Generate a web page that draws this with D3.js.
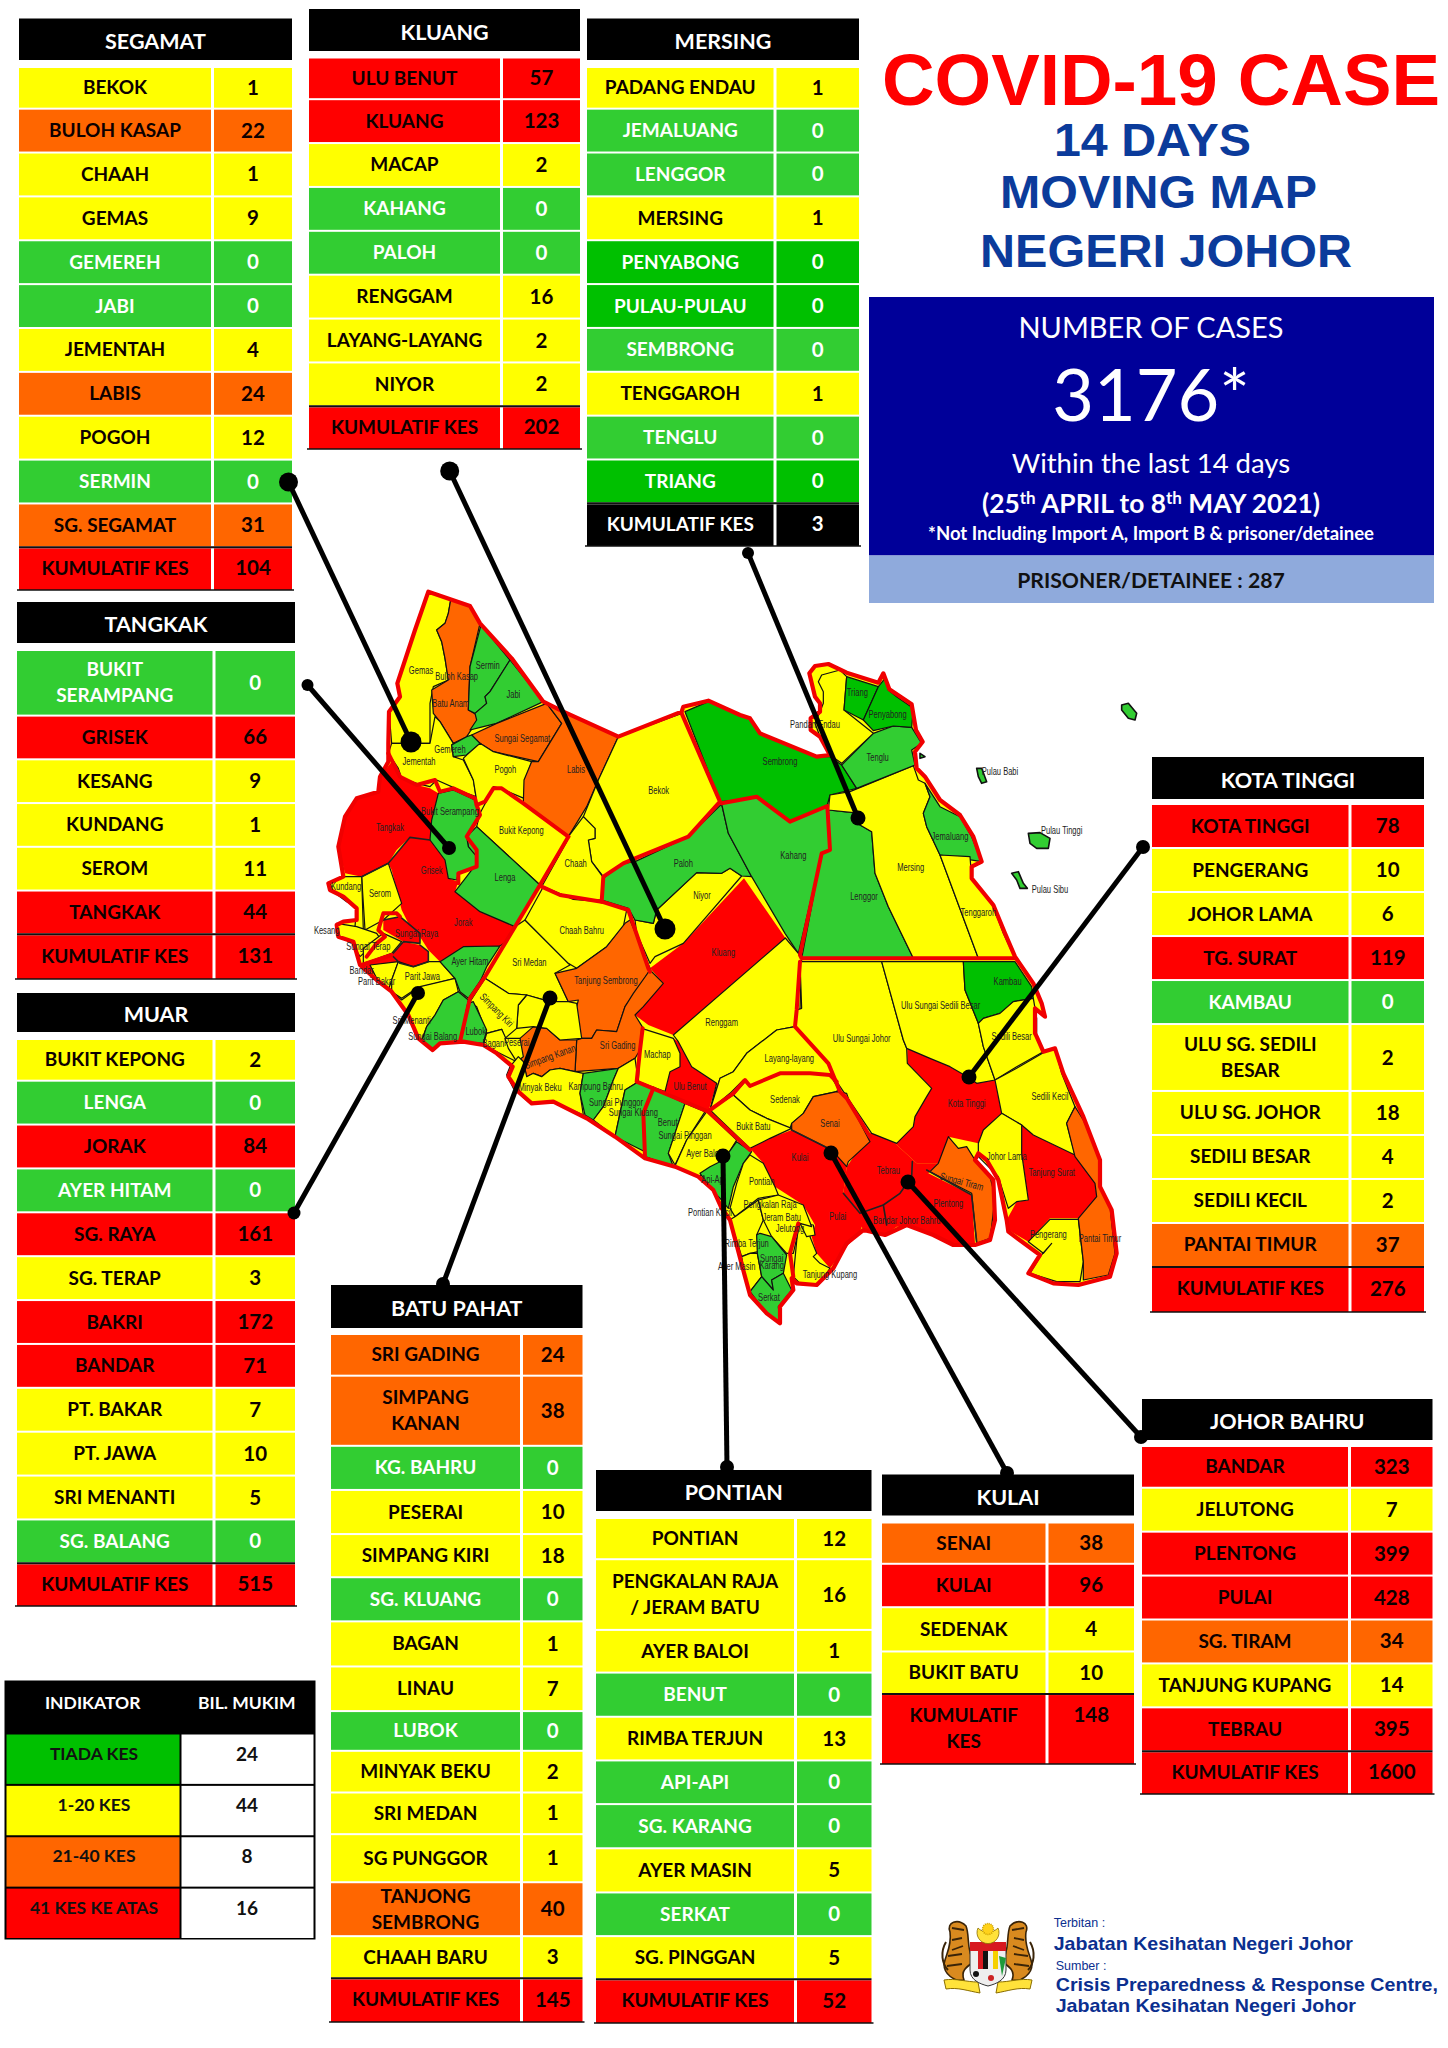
<!DOCTYPE html>
<html>
<head>
	<meta charset="utf-8">
	<title>COVID-19 Case Johor</title>
	<script src="https://cdn.jsdelivr.net/npm/d3@7"></script>
	<style>
	html, body { margin: 0; padding: 0; background: #fff; }
	svg { display: block; }
	text { font-family: Lato, "Open Sans", sans-serif; }
	</style>
</head>
<body>
	<script type="text/javascript">

		// Kes mengikut mukim ('|' = baris baru)
		let segamatMukim = ['BEKOK', 'BULOH KASAP', 'CHAAH', 'GEMAS', 'GEMEREH', 'JABI', 'JEMENTAH', 'LABIS', 'POGOH', 'SERMIN', 'SG. SEGAMAT'];
		let segamatCases = [1, 22, 1, 9, 0, 0, 4, 24, 12, 0, 31];
		let kluangMukim = ['ULU BENUT', 'KLUANG', 'MACAP', 'KAHANG', 'PALOH', 'RENGGAM', 'LAYANG-LAYANG', 'NIYOR'];
		let kluangCases = [57, 123, 2, 0, 0, 16, 2, 2];
		let mersingMukim = ['PADANG ENDAU', 'JEMALUANG', 'LENGGOR', 'MERSING', 'PENYABONG', 'PULAU-PULAU', 'SEMBRONG', 'TENGGAROH', 'TENGLU', 'TRIANG'];
		let mersingCases = [1, 0, 0, 1, 0, 0, 0, 1, 0, 0];
		let tangkakMukim = ['BUKIT|SERAMPANG', 'GRISEK', 'KESANG', 'KUNDANG', 'SEROM', 'TANGKAK'];
		let tangkakCases = [0, 66, 9, 1, 11, 44];
		let muarMukim = ['BUKIT KEPONG', 'LENGA', 'JORAK', 'AYER HITAM', 'SG. RAYA', 'SG. TERAP', 'BAKRI', 'BANDAR', 'PT. BAKAR', 'PT. JAWA', 'SRI MENANTI', 'SG. BALANG'];
		let muarCases = [2, 0, 84, 0, 161, 3, 172, 71, 7, 10, 5, 0];
		let batuPahatMukim = ['SRI GADING', 'SIMPANG|KANAN', 'KG. BAHRU', 'PESERAI', 'SIMPANG KIRI', 'SG. KLUANG', 'BAGAN', 'LINAU', 'LUBOK', 'MINYAK BEKU', 'SRI MEDAN', 'SG PUNGGOR', 'TANJONG|SEMBRONG', 'CHAAH BARU'];
		let batuPahatCases = [24, 38, 0, 10, 18, 0, 1, 7, 0, 2, 1, 1, 40, 3];
		let pontianMukim = ['PONTIAN', 'PENGKALAN RAJA|/ JERAM BATU', 'AYER BALOI', 'BENUT', 'RIMBA TERJUN', 'API-API', 'SG. KARANG', 'AYER MASIN', 'SERKAT', 'SG. PINGGAN'];
		let pontianCases = [12, 16, 1, 0, 13, 0, 0, 5, 0, 5];
		let kulaiMukim = ['SENAI', 'KULAI', 'SEDENAK', 'BUKIT BATU'];
		let kulaiCases = [38, 96, 4, 10];
		let johorBahruMukim = ['BANDAR', 'JELUTONG', 'PLENTONG', 'PULAI', 'SG. TIRAM', 'TANJUNG KUPANG', 'TEBRAU'];
		let johorBahruCases = [323, 7, 399, 428, 34, 14, 395];
		let kotaTinggiMukim = ['KOTA TINGGI', 'PENGERANG', 'JOHOR LAMA', 'TG. SURAT', 'KAMBAU', 'ULU SG. SEDILI|BESAR', 'ULU  SG. JOHOR', 'SEDILI BESAR', 'SEDILI KECIL', 'PANTAI TIMUR'];
		let kotaTinggiCases = [78, 10, 6, 119, 0, 2, 18, 4, 2, 37];

		let totalCases = [104, 202, 3, 131, 515, 145, 52, 148, 1600, 276];
		let totalLabel = 'KUMULATIF KES';

		let legendLabels = ['TIADA KES', '1-20 KES', '21-40 KES', '41 KES KE ATAS'];
		let legendMukim = [24, 44, 8, 16];

		// warna
		let caseColor = d3.scaleThreshold().domain([1, 21, 41]).range(['#32cd32', '#ffff00', '#ff6600', '#ff0000']);
		let legendColors = ['#00c000', '#ffff00', '#ff6600', '#ff0000'];
		let darkGreenRows = ['PENYABONG', 'PULAU-PULAU', 'TRIANG'];
		let darkGreenShapes = ['PENYABONG', 'TRIANG', 'SEMBRONG', 'KAMBAU'];

		let tables = [
			{ title: 'SEGAMAT', mukim: segamatMukim, cases: segamatCases, total: totalCases[0], x0: 19, x1: 292, split: 212.5, h0: 18.5, h1: 60, y0: 68, y1: 590 },
			{ title: 'KLUANG', mukim: kluangMukim, cases: kluangCases, total: totalCases[1], x0: 309, x1: 580, split: 501.5, h0: 9, h1: 51, y0: 58.5, y1: 449 },
			{ title: 'MERSING', mukim: mersingMukim, cases: mersingCases, total: totalCases[2], x0: 587, x1: 859, split: 775, h0: 18.5, h1: 60, y0: 68, y1: 546 },
			{ title: 'TANGKAK', mukim: tangkakMukim, cases: tangkakCases, total: totalCases[3], x0: 17, x1: 295, split: 214, h0: 602, h1: 643, y0: 651, y1: 979, weights: [1.5, 1, 1, 1, 1, 1, 1] },
			{ title: 'MUAR', mukim: muarMukim, cases: muarCases, total: totalCases[4], x0: 17, x1: 295, split: 214, h0: 993, h1: 1032, y0: 1040, y1: 1606 },
			{ title: 'BATU PAHAT', mukim: batuPahatMukim, cases: batuPahatCases, total: totalCases[5], x0: 331, x1: 582.5, split: 521.5, h0: 1285, h1: 1328, y0: 1335, y1: 2022, weights: [85, 143, 90, 90, 88, 90, 92, 91, 81, 85, 85, 98, 110, 86, 87] },
			{ title: 'PONTIAN', mukim: pontianMukim, cases: pontianCases, total: totalCases[6], x0: 596, x1: 871.5, split: 795.5, h0: 1470, h1: 1511, y0: 1519, y1: 2023, weights: [84, 144, 87, 90, 89, 89, 90, 90, 89, 88, 87] },
			{ title: 'KULAI', mukim: kulaiMukim, cases: kulaiCases, total: totalCases[7], x0: 882, x1: 1134, split: 1047, h0: 1474.5, h1: 1515.5, y0: 1523.5, y1: 1764, weights: [97, 102, 104, 100, 162], totalLabel: 'KUMULATIF|KES', totalTop: true },
			{ title: 'JOHOR BAHRU', mukim: johorBahruMukim, cases: johorBahruCases, total: totalCases[8], x0: 1142, x1: 1432.5, split: 1349.5, h0: 1399, h1: 1440, y0: 1447, y1: 1794 },
			{ title: 'KOTA TINGGI', mukim: kotaTinggiMukim, cases: kotaTinggiCases, total: totalCases[9], x0: 1152, x1: 1424, split: 1350, h0: 757, h1: 799, y0: 805, y1: 1312, weights: [1, 1, 1, 1, 1, 1.52, 1, 1, 1, 1, 1] }
		];

		// Sempadan mukim dikesan dari gambar; unit peta dengan bingkai a-d
		let mapFrames = { a: [0, 0], b: [0, 1140], c: [1260, 180], d: [1140, 1140] };
		let coastRing = '325,35 450,78 480,130 575,235 670,365 730,395 895,470 1085,395 1090,380 1165,362 1260,405 1290,415 1320,460 1490,530 1530,525 1500,470 1472,450 1472,415 1500,395 1500,370 1485,350 1468,280 1485,258 1525,252 1580,278 1675,308 1690,280 1708,328 1775,373 1788,450 1808,485 1785,515 1790,565 1815,590 1860,660 1920,705 1960,770 1985,845 1955,860 1955,895 2020,975 2055,1060 2085,1130 2140,1210 2165,1270 2175,1310 2145,1285 2145,1360 2150,1370 2170,1415 2205,1405 2230,1480 2290,1610 2340,1740 2340,1820 2375,1890 2390,2020 2370,2090 2275,2115 2200,2110 2125,2080 2160,2025 2065,1955 2060,1920 2035,1800 2000,1740 1975,1720 1965,1740 2020,1800 2025,1920 2010,1980 1965,1995 1900,1995 1840,1965 1760,1935 1695,1965 1630,1950 1580,1990 1540,2065 1490,2115 1430,2110 1415,2095 1420,2130 1380,2180 1380,2230 1340,2200 1290,2145 1275,2090 1230,1920 1205,1885 1180,1830 1135,1790 1065,1760 975,1735 885,1670 800,1615 700,1565 635,1570 595,1535 565,1490 578,1460 530,1420 490,1395 430,1385 360,1390 338,1410 295,1375 265,1305 215,1235 170,1200 120,1155 100,1085 55,1070 50,1035 70,1025 110,1020 110,985 70,950 30,930 25,910 70,890 55,800 75,710 110,655 175,635 180,590 205,545 205,490 207,395 240,350 232,310 285,150';

		let mapShapes = [
			['TANGKAK', 'TANGKAK', 'a', '215,545 240,590 290,615 330,625 355,640 335,720 330,780 270,772 230,810 205,850 125,890 75,880 55,800 75,710 110,655 175,635 180,590'],
			['TANGKAK', 'GRISEK', 'a', '205,850 270,772 330,780 375,840 385,895 415,905 405,935 480,995 585,1040 550,1090 540,1100 430,1100 360,1145 325,1110 300,1070 265,1030 245,990 215,870'],
			['MUAR', 'SG. RAYA', 'a', '190,1020 240,1010 300,1060 300,1090 250,1085 190,1050'],
			['MUAR', 'BAKRI', 'a', '215,1125 250,1085 300,1095 325,1115 325,1145 280,1160 240,1150'],
			['MUAR', 'BANDAR', 'a', '125,1155 215,1125 240,1150 165,1185'],
			['KLUANG', 'KLUANG', 'a', '990,1165 1090,1090 1272,895 1396,1074 1060,1365 985,1335 945,1305 970,1275 1030,1210'],
			['KLUANG', 'ULU BENUT', 'b', '1060,235 1075,245 1115,320 1190,370 1165,455 1035,395 1050,335 1080,320 1080,280'],
			['KOTA TINGGI', 'KOTA TINGGI', 'd', '622,265 690,295 750,320 810,355 830,370 885,360 905,460 850,510 835,550 745,530 720,610 650,610 585,550 640,500 645,470 680,410 695,385 622,310'],
			['KOTA TINGGI', 'TG. SURAT', 'd', '965,495 1000,525 1125,585 1185,670 1190,710 1135,775 1050,775 985,845 925,810 920,780 950,725 985,720 965,580'],
			['KULAI', 'KULAI', 'd', '150,565 210,535 275,510 395,565 440,620 430,700 340,775 310,735 225,680 190,610'],
			['JOHOR BAHRU', 'PULAI', 'd', '225,660 310,735 345,795 335,830 350,880 390,925 440,860 480,815 500,760 430,700 400,640'],
			['JOHOR BAHRU', 'TEBRAU', 'd', '440,620 510,520 530,515 585,550 650,610 715,610 685,640 815,705 825,850 770,860 715,830 640,800 590,800 555,825 490,810 430,700'],

			['SEGAMAT', 'GEMAS', 'a', '325,35 392,60 385,100 375,130 350,150 365,185 375,235 385,300 340,320 330,370 330,490 215,490 207,395 240,350 232,310 285,150'],
			['SEGAMAT', 'BULOH KASAP', 'a', '392,60 450,78 480,130 450,260 445,390 480,410 440,470 400,490 360,425 340,400 335,330 385,300 375,235 365,185 350,150 375,130 385,100'],
			['SEGAMAT', 'SERMIN', 'a', '483,135 570,240 510,335 495,350 500,370 465,400 445,390 450,260'],
			['SEGAMAT', 'JABI', 'a', '570,240 670,365 530,430 490,440 450,450 470,420 465,400 500,370 495,350 510,335'],
			['SEGAMAT', 'SG. SEGAMAT', 'a', '455,465 530,430 680,370 725,430 655,545 520,515 480,490'],
			['SEGAMAT', 'JEMENTAH', 'a', '215,490 330,490 345,410 360,425 400,490 395,495 400,530 430,540 460,600 468,650 440,640 350,600 330,620 290,610 245,595 235,565 205,520'],
			['SEGAMAT', 'GEMEREH', 'a', '395,495 440,470 455,465 480,490 440,525 400,530'],
			['SEGAMAT', 'POGOH', 'a', '430,535 440,525 480,490 520,515 635,545 615,600 612,655 540,625 520,620 495,665 470,675 468,650 460,600'],
			['SEGAMAT', 'LABIS', 'a', '680,370 730,395 895,470 835,600 800,680 745,770 610,670 612,600 635,545 655,545 725,430'],
			['SEGAMAT', 'BEKOK', 'a', '895,470 1085,400 1200,665 1105,770 945,835 850,890 815,845 805,780 825,775 825,745 790,710 835,600'],
			['SEGAMAT', 'CHAAH', 'a', '745,770 790,710 825,745 825,775 805,780 815,845 848,890 845,960 760,958 665,920 740,785'],
			['MUAR', 'BUKIT KEPONG', 'a', '470,740 480,700 520,625 545,625 610,670 745,770 660,915'],
			['MUAR', 'LENGA', 'a', '470,740 660,915 585,1040 480,995 405,935 440,890 470,850 445,800 440,770'],
			['TANGKAK', 'BUKIT|SERAMPANG', 'a', '355,640 400,630 465,660 480,700 440,770 445,800 470,830 470,860 415,880 410,900 385,895 375,840 330,780 335,720'],
			['TANGKAK', 'SEROM', 'a', '125,890 205,850 245,970 190,1020 135,1050'],
			['TANGKAK', 'KUNDANG', 'a', '30,910 70,890 125,890 130,1050 105,1040 110,980 80,965 40,935'],
			['TANGKAK', 'KESANG', 'a', '50,1030 110,1040 170,1060 180,1075 120,1130 90,1080 60,1070'],
			['MUAR', 'SG. TERAP', 'a', '130,1105 190,1060 245,1085 215,1120 160,1140 130,1150'],
			['MUAR', 'PT. BAKAR', 'a', '150,1155 235,1145 215,1200 205,1230 170,1195'],
			['MUAR', 'PT. JAWA', 'a', '235,1145 280,1160 325,1145 360,1145 405,1195 290,1225 245,1255 215,1235 215,1200'],
			['MUAR', 'SRI MENANTI', 'b', '215,95 245,120 300,80 405,55 415,95 370,120 345,165 320,200 305,240 290,230 265,165'],
			['MUAR', 'SG. BALANG', 'b', '415,95 445,120 420,245 360,250 338,270 305,245 320,200 345,165 370,120'],
			['MUAR', 'AYER HITAM', 'a', '360,1145 430,1100 540,1098 510,1160 445,1255 420,1235 405,1195'],
			['BATU PAHAT', 'SRI MEDAN', 'a', '585,1040 615,1020 750,1155 705,1180 745,1265 690,1265 620,1245 565,1240 495,1195 460,1250 500,1160 540,1098 552,1090'],
			['BATU PAHAT', 'CHAAH BARU', 'a', '615,1020 670,920 760,958 845,965 920,990 910,1040 860,1100 770,1165 745,1150'],
			['BATU PAHAT', 'TANJONG|SEMBRONG', 'a', '770,1165 860,1100 915,1030 930,1020 990,1165 990,1170 945,1240 915,1280 890,1355 830,1350 815,1375 785,1375 760,1320 775,1260 745,1265 705,1180'],
			['BATU PAHAT', 'SRI GADING', 'b', '785,235 815,235 830,210 890,215 915,140 940,100 990,30 1030,70 970,140 945,165 970,205 960,270 945,295 895,325 765,335 770,240'],
			['BATU PAHAT', 'SIMPANG|KANAN', 'b', '600,235 640,200 680,205 720,240 770,240 765,335 720,325 690,330 665,350 640,340 620,350 610,305 595,290'],
			['BATU PAHAT', 'LINAU', 'b', '620,105 595,135 590,205 640,200 680,205 720,240 785,235 770,130 745,125 690,125'],
			['BATU PAHAT', 'SIMPANG KIRI', 'b', '495,55 565,100 620,105 595,135 590,205 555,235 545,208 500,220 470,140 450,125'],
			['BATU PAHAT', 'LUBOK', 'b', '460,125 500,210 490,250 420,245 445,130'],
			['BATU PAHAT', 'BAGAN', 'b', '500,220 545,208 590,305 560,290 490,255'],
			['BATU PAHAT', 'PESERAI', 'b', '555,235 600,235 610,290 590,305 565,265'],
			['BATU PAHAT', 'MINYAK BEKU', 'b', '595,290 570,320 560,345 580,385 630,430 700,425 790,465 780,400 790,340 765,335 720,325 690,330 665,350 640,340 620,350 610,305'],
			['BATU PAHAT', 'KG. BAHRU', 'b', '790,340 895,325 880,360 850,440 820,480 795,465 780,400'],
			['BATU PAHAT', 'SG PUNGGOR', 'b', '895,325 945,295 955,365 915,390 885,530 820,480 850,440 880,360'],
			['BATU PAHAT', 'SG. KLUANG', 'b', '915,390 955,365 1000,385 970,460 975,575 885,530'],
			['PONTIAN', 'BENUT', 'b', '1000,385 1095,430 1045,580 1060,620 975,590 975,575 970,460'],
			['PONTIAN', 'SG. PINGGAN', 'b', '1095,430 1155,455 1100,540 1065,615 1045,580'],
			['PONTIAN', 'AYER BALOI', 'b', '1160,455 1250,540 1200,620 1135,650 1065,618 1100,540'],
			['KLUANG', 'MACAP', 'b', '965,205 1060,235 1080,280 1080,320 1050,335 1035,395 955,365 960,270'],
			['KLUANG', 'NIYOR', 'a', '945,1020 1000,1030 1010,990 1130,878 1205,880 1230,865 1265,888 1090,1090 1005,1130 990,1150 950,1060'],
			['KLUANG', 'PALOH', 'a', '850,895 910,850 945,845 1105,770 1205,672 1225,760 1295,890 1265,888 1230,865 1205,880 1130,878 1010,990 1000,1030 945,1020 925,985 845,960'],
			['KLUANG', 'KAHANG', 'a', '1205,672 1260,660 1310,650 1410,725 1520,680 1530,810 1505,820 1435,1120 1395,1060 1295,890 1225,760'],
			['KLUANG', 'RENGGAM', 'a', '1396,1074 1435,1120 1445,1135 1440,1290 1425,1340 1370,1350 1280,1420 1240,1475 1200,1495 1170,1590 1190,1510 1115,1460 1075,1385 1060,1365'],
			['KLUANG', 'LAYANG-LAYANG', 'd', '285,200 385,310 410,365 390,345 330,340 240,340 150,380 130,360 90,400 30,450 60,355 100,335 140,280 230,210'],
			['MERSING', 'LENGGOR', 'a', '1525,690 1600,698 1620,735 1655,755 1665,880 1705,980 1780,1135 1445,1135 1505,820 1530,810'],
			['MERSING', 'SEMBRONG', 'a', '1095,395 1165,365 1260,405 1290,415 1320,460 1495,530 1530,530 1565,555 1610,625 1590,630 1530,645 1522,675 1410,725 1310,650 1260,660 1200,665'],
			['MERSING', 'MERSING', 'a', '1530,645 1590,635 1780,557 1795,600 1815,610 1830,650 1810,700 1820,740 1860,825 1975,1135 1780,1135 1705,980 1665,880 1655,755 1620,735 1600,698 1525,690'],
			['MERSING', 'TENGLU', 'c', '305,375 400,280 460,258 515,262 545,310 515,330 525,375 350,445'],
			['MERSING', 'PADANG ENDAU', 'c', '245,105 300,90 320,110 312,210 400,280 305,370 270,345 240,290 225,250 240,215 250,190 250,155 235,125'],
			['MERSING', 'TRIANG', 'c', '320,110 415,140 370,240 312,210'],
			['MERSING', 'PENYABONG', 'c', '415,140 435,115 445,150 470,170 520,205 515,262 460,258 400,272 370,240'],
			['MERSING', 'JEMALUANG', 'c', '555,430 600,500 660,530 695,590 725,665 600,645 560,560 550,520 570,470'],
			['MERSING', 'TENGGAROH', 'c', '600,645 690,650 695,715 760,800 790,880 825,955 715,955'],
			['KOTA TINGGI', 'ULU  SG. JOHOR', 'd', '300,5 545,5 610,240 620,265 622,310 695,385 680,410 645,470 640,500 590,550 515,520 410,365 385,310 285,200 290,150 305,145'],
			['KOTA TINGGI', 'ULU SG. SEDILI|BESAR', 'd', '545,5 790,5 795,90 835,190 850,260 885,360 830,370 810,355 750,320 690,295 620,265 610,240'],
			['KOTA TINGGI', 'KAMBAU', 'd', '790,5 945,5 995,80 1000,115 940,125 900,160 850,175 835,190 795,90'],
			['KOTA TINGGI', 'SEDILI BESAR', 'd', '835,190 850,175 900,160 940,125 1000,115 1010,175 1010,225 1030,275 950,320 885,360 850,260'],
			['KOTA TINGGI', 'SEDILI KECIL', 'd', '885,360 950,325 1030,278 1065,265 1085,340 1125,440 1100,490 1125,585 1000,525 965,495 905,460'],
			['KOTA TINGGI', 'JOHOR LAMA', 'd', '850,510 905,460 965,495 965,580 985,720 950,725 925,745 895,650 835,590 835,550'],
			['KOTA TINGGI', 'PENGERANG', 'd', '985,845 1050,778 1135,778 1150,905 1140,965 1070,965 990,940 1020,890 1055,850 1030,880'],
			['KOTA TINGGI', 'PANTAI TIMUR', 'd', '1125,440 1150,480 1185,555 1200,610 1200,680 1230,740 1245,880 1225,945 1150,960 1150,905 1135,775 1190,710 1185,670 1125,590 1100,490'],
			['KULAI', 'SEDENAK', 'd', '100,405 135,365 150,380 240,340 330,340 390,345 415,385 410,395 340,410 310,460 275,490 270,505 200,475 150,450'],
			['KULAI', 'BUKIT BATU', 'd', '30,450 100,405 150,450 200,475 275,505 210,535 150,565'],
			['KULAI', 'SENAI', 'd', '275,490 310,460 340,410 410,395 440,400 450,430 510,545 445,605 440,620 395,570 275,510'],
			['JOHOR BAHRU', 'SG. TIRAM', 'd', '745,530 775,565 800,560 825,600 870,650 885,710 875,800 870,835 830,850 815,700 690,635 715,610'],
			['JOHOR BAHRU', 'TANJUNG KUPANG', 'd', '295,790 335,800 330,830 350,880 340,890 360,910 390,925 355,975 300,970 280,950'],
			['JOHOR BAHRU', 'JELUTONG', 'd', '300,790 340,795 345,825 320,830'],
			['PONTIAN', 'API-API', 'd', '0,640 30,620 70,600 110,545 155,575 130,610 100,680 85,745 65,720 40,695'],
			['PONTIAN', 'PONTIAN', 'd', '150,585 190,610 225,680 235,705 175,715 105,770 90,745 110,670 130,610'],
			['PONTIAN', 'RIMBA TERJUN', 'd', '88,780 105,770 175,720 190,780 170,825 175,875 150,880 125,890 110,840'],
			['PONTIAN', 'AYER MASIN', 'd', '125,890 150,880 172,880 185,950 150,995 135,950'],
			['PONTIAN', 'PENGKALAN RAJA|/ JERAM BATU', 'd', '175,720 235,705 310,735 335,800 300,790 280,880 260,880 215,830 190,780'],
			['PONTIAN', 'SG. KARANG', 'd', '170,825 180,820 215,830 260,885 250,940 215,960 220,990 185,950 172,880'],
			['PONTIAN', 'SERKAT', 'd', '150,995 185,950 220,990 215,960 250,940 275,990 235,1040 240,1090 200,1060']
		];

		let islandShapes = [
			['c', '710,385 725,385 740,425 725,430 715,410'],
			['c', '865,580 900,578 930,595 925,625 890,625 870,610'],
			['c', '815,700 835,695 850,730 862,745 840,745 830,720'],
			['c', '1145,195 1165,190 1190,220 1185,240 1165,235 1145,210'],
			['c', '540,340 555,350 540,355']
		];

		let mukimLines = [
			['a', '125,890 205,850 270,772 330,780'],
			['a', '190,1020 240,1010 300,1060 300,1090 250,1085 215,1125 240,1150 280,1160 325,1145 325,1115 300,1095'],
			['d', '275,510 395,570'],
			['d', '430,700 480,760 550,735 600,700 635,650 637,605'],
			['d', '550,735 560,795'],
			['d', '680,630 815,705 830,845']
		];

		let districtLines = [
			['a', '205,520 240,590 290,615 345,600 360,635 400,625 465,655 470,675 495,665 520,625 545,625 610,670 745,770'],
			['a', '470,675 480,705 440,770 470,810 470,860 415,880 415,910'],
			['a', '745,770 660,915 585,1040 495,1190 450,1255 420,1385'],
			['a', '665,920 720,945 845,965 925,990 985,1165 990,1175'],
			['a', '1085,400 1200,665 1105,770 945,835 910,850 850,890 845,965'],
			['a', '1205,670 1310,650 1410,725 1522,678 1530,810 1505,820 1440,1125 1445,1135 2085,1135'],
			['d', '300,5 290,150 285,200 385,310 420,395 440,415 510,530'],
			['d', '30,450 100,400 135,360 150,378 240,340 330,340 390,345 410,365'],
			['b', '968,205 960,270 950,365 1165,455 1290,570'],
			['b', '1000,385 970,460 975,590'],
			['d', '295,790 270,880 280,950'],
			['a', '140,1130 170,1090 195,1070 175,1050 190,1000 230,1000 240,1010'],
			['a', '125,1155 215,1125']
		];

		// nama, x, y, pusing
		let mapLabels = [
			['Gemas', 303, 270], ['Buloh Kasap', 410, 290], ['Batu Anam', 392, 370], ['Sermin', 503, 255], ['Jabi', 580, 342],
			['Sungai Segamat', 607, 475], ['Gemereh', 390, 507], ['Jementah', 297, 545], ['Pogoh', 556, 568], ['Labis', 768, 567],
			['Bekok', 1016, 630], ['Bukit Serampang', 390, 693], ['Bukit Kepong', 604, 750], ['Tangkak', 210, 742], ['Grisek', 335, 870],
			['Lenga', 555, 892], ['Chaah', 767, 851], ['Paloh', 1090, 851], ['Niyor', 1146, 945], ['Kundang', 78, 918], ['Serom', 180, 940],
			['Jorak', 430, 1028], ['Sungai Raya', 290, 1060], ['Kesang', 20, 1052], ['Sungai Terap', 145, 1100], ['Bandar', 125, 1170],
			['Parit Bakar', 170, 1205], ['Parit Jawa', 307, 1190], ['Sri Menanti', 275, 1320], ['Sungai Balang', 338, 1368], ['Ayer Hitam', 450, 1145],
			['Sri Medan', 628, 1148], ['Chaah Bahru', 785, 1050], ['Tanjung Sembrong', 858, 1200], ['Simpang Kiri', 530, 1290, 45], ['Lubok', 467, 1355],
			['Bagan', 520, 1390], ['Peserai', 590, 1388], ['Simpang Kanan', 690, 1430, -20], ['Sri Gading', 893, 1395], ['Machap', 1012, 1422],
			['Ulu Benut', 1110, 1520], ['Minyak Beku', 660, 1522], ['Kampung Bahru', 827, 1520], ['Sungai Punggor', 888, 1568], ['Sungai Kluang', 940, 1597],
			['Benut', 1043, 1627], ['Sungai Pinggan', 1095, 1665], ['Ayer Baloi', 1150, 1720], ['Api-Api', 1180, 1797], ['Pontian Kecil', 1170, 1897],
			['Kluang', 1210, 1117], ['Renggam', 1205, 1327], ['Sembrong', 1380, 545], ['Kahang', 1420, 825], ['Lenggor', 1632, 948], ['Mersing', 1772, 862],
			['Tenglu', 1673, 532], ['Triang', 1612, 338], ['Penyabong', 1703, 403], ['Pandan Endau', 1485, 433], ['Jemaluang', 1890, 770], ['Tenggaroh', 1975, 998],
			['Kambau', 2063, 1205], ['Pulau Babi', 2040, 575], ['Pulau Tinggi', 2225, 750], ['Pulau Sibu', 2190, 928], ['Ulu Sungai Sedili Besar', 1862, 1275],
			['Ulu Sungai Johor', 1625, 1375], ['Sedili Besar', 2075, 1370], ['Sedili Kecil', 2190, 1548], ['Layang-layang', 1408, 1436], ['Sedenak', 1395, 1558],
			['Bukit Batu', 1300, 1640], ['Senai', 1530, 1630], ['Kota Tinggi', 1940, 1570], ['Kulai', 1440, 1732], ['Tebrau', 1705, 1772], ['Sungai Tiram', 1925, 1805, 15],
			['Plentong', 1885, 1870], ['Johor Lama', 2060, 1728], ['Tanjung Surat', 2195, 1777], ['Pengerang', 2185, 1963], ['Pantai Timur', 2340, 1975], ['Pulai', 1553, 1910],
			['Bandar Johor Bahru', 1760, 1922], ['Pontian', 1325, 1805], ['Pengkalan Raja', 1350, 1873], ['Jeram Batu', 1385, 1912], ['Jelutong', 1410, 1944],
			['Rimba Terjun', 1280, 1990], ['Sungai', 1355, 2035], ['Karang', 1355, 2055], ['Ayer Masin', 1250, 2060], ['Serkat', 1347, 2152], ['Tanjung Kupang', 1530, 2083]
		];

		// garisan penunjuk: jadual -> peta (px)
		let leaderLines = [
			{ from: [288.5, 482], to: [411, 742], r0: 9.5, r1: 10.5 },
			{ from: [449.7, 471], to: [665, 929], r0: 9.5, r1: 10.5 },
			{ from: [748, 553], to: [858, 818], r0: 6, r1: 7.5 },
			{ from: [307.5, 685], to: [449, 848], r0: 6, r1: 7 },
			{ from: [294, 1213], to: [418, 993], r0: 6.5, r1: 7 },
			{ from: [443, 1284], to: [550, 998], r0: 7, r1: 7.5 },
			{ from: [727, 1467], to: [723, 1156], r0: 7, r1: 7.5 },
			{ from: [1007, 1473], to: [831, 1153], r0: 7, r1: 7.5 },
			{ from: [1141, 1437], to: [908, 1182], r0: 7, r1: 7.5 },
			{ from: [1143, 847], to: [969, 1077], r0: 7, r1: 7.5 }
		];

		let svg = d3.select('body').append('svg').attr('width', 1448).attr('height', 2048);

		let xMap = d3.scaleLinear().domain([0, 2520]).range([320, 1160]);
		let yMap = d3.scaleLinear().domain([0, 2340]).range([580, 1360]);

		function ringPoints(frame, text) {
			let off = mapFrames[frame];
			return text.split(' ').map(function(p) {
				let xy = p.split(',');
				return [+xy[0] + off[0], +xy[1] + off[1]];
			});
		}
		let mapLine = d3.line().x(function(d) { return xMap(d[0]); }).y(function(d) { return yMap(d[1]); });
		function closedPath(pts) { return mapLine(pts) + 'Z'; }

		function lookupCases(district, mukim) {
			let t = tables.filter(function(d) { return d.title == district; })[0];
			return t.cases[t.mukim.indexOf(mukim)];
		}

		// Peta
		let mapG = svg.append('g').attr('stroke-linejoin', 'round').attr('stroke-linecap', 'round');
		mapG.append('path').attr('d', closedPath(ringPoints('a', coastRing))).attr('fill', '#ffff00');
		mapG.selectAll('path.mukim').data(mapShapes).enter().append('path').attr('class', 'mukim')
			.attr('d', function(d) { return closedPath(ringPoints(d[2], d[3])); })
			.attr('fill', function(d) {
				if (darkGreenShapes.indexOf(d[1]) >= 0) return legendColors[0];
				return caseColor(lookupCases(d[0], d[1]));
			})
			.attr('stroke', function(d) { return lookupCases(d[0], d[1]) >= 41 ? 'none' : '#111'; })
			.attr('stroke-width', 1.2);
		mapG.selectAll('path.island').data(islandShapes).enter().append('path').attr('class', 'island')
			.attr('d', function(d) { return closedPath(ringPoints(d[0], d[1])); })
			.attr('fill', '#32cd32').attr('stroke', '#111').attr('stroke-width', 1.6);
		mapG.selectAll('path.mline').data(mukimLines).enter().append('path').attr('class', 'mline')
			.attr('d', function(d) { return mapLine(ringPoints(d[0], d[1])); })
			.attr('fill', 'none').attr('stroke', '#222').attr('stroke-width', 1.6);
		mapG.append('path').attr('d', closedPath(ringPoints('a', coastRing)))
			.attr('fill', 'none').attr('stroke', '#f00000').attr('stroke-width', 4.2);
		mapG.selectAll('path.dline').data(districtLines).enter().append('path').attr('class', 'dline')
			.attr('d', function(d) { return mapLine(ringPoints(d[0], d[1])); })
			.attr('fill', 'none').attr('stroke', '#f00000').attr('stroke-width', 4);

		svg.append('g').selectAll('text').data(mapLabels).enter().append('text')
			.attr('transform', function(d) { return 'translate(' + xMap(d[1]) + ',' + yMap(d[2]) + ') rotate(' + (d[3] || 0) + ') scale(0.72,1)'; })
			.attr('dy', 3.5).attr('text-anchor', 'middle')
			.style('font-family', '"Liberation Sans", sans-serif')
			.style('font-size', '10.5px').attr('fill', '#222')
			.text(function(d) { return d[0]; });

		// Jadual daerah
		function cellText(g, str, x, yMid, fill, size) {
			let lines = str.split('|');
			let lh = 26;
			let t = g.append('text').attr('text-anchor', 'middle').attr('fill', fill)
				.style('font-weight', 'bold').style('font-size', size + 'px');
			lines.forEach(function(s, i) {
				t.append('tspan').attr('x', x)
					.attr('y', yMid + 5.5 + (i - (lines.length - 1) / 2) * lh)
					.text(s);
			});
		}

		tables.forEach(function(t) {
			let g = svg.append('g').attr('class', 'table');
			g.append('rect').attr('x', t.x0).attr('y', t.h0).attr('width', t.x1 - t.x0).attr('height', t.h1 - t.h0).attr('fill', '#000');
			g.append('text').attr('x', (t.x0 + t.x1) / 2).attr('y', (t.h0 + t.h1) / 2 + 9.5)
				.attr('text-anchor', 'middle').attr('fill', '#fff').style('font-weight', 'bold').style('font-size', '21.5px').text(t.title);

			let names = t.mukim.concat([t.totalLabel || totalLabel]);
			let vals = t.cases.concat([t.total]);
			// baris pertama dan terakhir sedikit pendek
			let weights = t.weights || names.map(function(d, i) { return (i == 0 || i == names.length - 1) ? 0.95 : 1; });
			let cum = d3.cumsum(weights);
			let yRow = d3.scaleLinear().domain([0, cum[cum.length - 1]]).range([t.y0, t.y1]);

			names.forEach(function(name, i) {
				let top = yRow(i == 0 ? 0 : cum[i - 1]);
				let bottom = yRow(cum[i]);
				let isTotal = i == names.length - 1;
				let fill = caseColor(vals[i]);
				if (darkGreenRows.indexOf(name) >= 0) fill = legendColors[0];
				if (isTotal && vals[i] <= 40) fill = '#000';
				let ink = (vals[i] == 0 || fill == '#000') ? '#fff' : '#0d0000';
				let h = bottom - top - (isTotal ? 0 : 2);
				g.append('rect').attr('x', t.x0).attr('y', top).attr('width', t.split - 1.5 - t.x0).attr('height', h).attr('fill', fill);
				g.append('rect').attr('x', t.split + 1.5).attr('y', top).attr('width', t.x1 - t.split - 1.5).attr('height', h).attr('fill', fill);
				let mid = (top + bottom) / 2;
				cellText(g, name, (t.x0 + t.split - 1.5) / 2, mid, ink, 19);
				let valMid = (isTotal && t.totalTop) ? mid - 13 : mid + 0.5;
				cellText(g, String(vals[i]), (t.split + 1.5 + t.x1) / 2, valMid, ink, 20.5);
				if (isTotal) {
					g.append('line').attr('x1', t.x0).attr('x2', t.x1).attr('y1', top - 1).attr('y2', top - 1).attr('stroke', '#111').attr('stroke-width', 2);
					g.append('line').attr('x1', t.x0 - 2).attr('x2', t.x1 + 2).attr('y1', bottom).attr('y2', bottom).attr('stroke', '#111').attr('stroke-width', 1.6);
				}
			});
		});

		// Legenda
		let legendG = svg.append('g');
		let legendY = d3.scaleBand().domain(d3.range(4)).range([1733.5, 1939]);
		legendG.append('rect').attr('x', 4.5).attr('y', 1680.5).attr('width', 311).attr('height', 259).attr('fill', '#000');
		legendG.append('text').attr('x', 92.7).attr('y', 1709).attr('text-anchor', 'middle').attr('fill', '#fff').style('font-weight', 'bold').style('font-size', '17.5px').text('INDIKATOR');
		legendG.append('text').attr('x', 246.7).attr('y', 1709).attr('text-anchor', 'middle').attr('fill', '#fff').style('font-weight', 'bold').style('font-size', '17.5px').text('BIL. MUKIM');
		legendLabels.forEach(function(d, i) {
			let y = legendY(i) + 1;
			let h = legendY.bandwidth() - 2;
			legendG.append('rect').attr('x', 6.5).attr('y', y).attr('width', 173).attr('height', h).attr('fill', legendColors[i]);
			legendG.append('rect').attr('x', 181.5).attr('y', y).attr('width', 132).attr('height', h).attr('fill', '#fff');
			legendG.append('text').attr('x', 94).attr('y', y + 25).attr('text-anchor', 'middle').attr('fill', '#111').style('font-weight', 'bold').style('font-size', '17.5px').text(d);
			legendG.append('text').attr('x', 247).attr('y', y + 26).attr('text-anchor', 'middle').attr('fill', '#111').style('font-weight', 'bold').style('font-size', '19px').text(legendMukim[i]);
		});

		// Tajuk
		function titleLine(str, x0, x1, base, size, color) {
			svg.append('text').attr('x', x0).attr('y', base)
				.attr('textLength', x1 - x0).attr('lengthAdjust', 'spacingAndGlyphs')
				.attr('fill', color).style('font-family', '"Liberation Sans", Arial, sans-serif')
				.style('font-weight', 'bold').style('font-size', size + 'px').text(str);
		}
		titleLine('COVID-19 CASE', 882, 1440, 105, 73, '#ff0000');
		titleLine('14 DAYS', 1054, 1251, 155.5, 46, '#0b3b9b');
		titleLine('MOVING MAP', 1000, 1317, 207.5, 46, '#0b3b9b');
		titleLine('NEGERI JOHOR', 980, 1352, 267, 46, '#0b3b9b');

		svg.append('rect').attr('x', 869).attr('y', 297).attr('width', 565).attr('height', 258.5).attr('fill', '#000099');
		svg.append('rect').attr('x', 869).attr('y', 555.5).attr('width', 565).attr('height', 47.5).attr('fill', '#8faadc');

		function panelText(str, base, size, weight, color) {
			return svg.append('text').attr('x', 1151).attr('y', base).attr('text-anchor', 'middle')
				.attr('fill', color || '#fff').style('font-weight', weight).style('font-size', size + 'px').text(str);
		}
		panelText('NUMBER OF CASES', 338, 29, 'normal');
		panelText('3176*', 421, 72, 'normal');
		panelText('Within the last 14 days', 473, 27.5, 'normal');
		let dateText = panelText('', 513, 26.3, 'bold');
		[['(25', 0], ['th', 1], [' APRIL to 8', 0], ['th', 1], [' MAY 2021)', 0]].forEach(function(p, i, all) {
			let prevSup = i > 0 && all[i - 1][1];
			let ts = dateText.append('tspan').text(p[0]);
			if (p[1]) ts.attr('dy', -9).style('font-size', '17px');
			else if (prevSup) ts.attr('dy', 9);
		});
		panelText('*Not Including Import A, Import B & prisoner/detainee', 540, 18.5, 'bold');
		panelText('PRISONER/DETAINEE : 287', 588, 21.2, 'bold', '#111');

		// Penerbit
		function creditLine(str, x, base, size, weight, x1) {
			let t = svg.append('text').attr('x', x).attr('y', base).attr('fill', '#0b2f8f')
				.style('font-family', '"Liberation Sans", Arial, sans-serif')
				.style('font-weight', weight).style('font-size', size + 'px').text(str);
			if (x1) t.attr('textLength', x1 - x).attr('lengthAdjust', 'spacingAndGlyphs');
		}
		creditLine('Terbitan :', 1053.7, 1927, 12.5, 'normal');
		creditLine('Jabatan Kesihatan Negeri Johor', 1053.7, 1950, 19, 'bold', 1353);
		creditLine('Sumber :', 1055.7, 1970, 12.5, 'normal');
		creditLine('Crisis Preparedness & Response Centre,', 1055.7, 1991, 19, 'bold', 1438);
		creditLine('Jabatan Kesihatan Negeri Johor', 1055.7, 2012, 19, 'bold', 1356);

		// Jata negara (lakaran)
		let jata = svg.append('g').attr('transform', 'translate(988,1956)');
		[-1, 1].forEach(function(s) {
			let tiger = jata.append('g').attr('transform', 'scale(' + s + ',1)');
			tiger.append('path').attr('d', 'M14,6 C22,-6 18,-20 22,-30 C30,-38 42,-34 38,-24 C36,-10 42,-2 44,8 C44,18 34,26 24,24 C28,14 20,10 14,6Z')
				.attr('fill', '#d98a1f').attr('stroke', '#3a2408').attr('stroke-width', 1.6);
			tiger.append('path').attr('d', 'M24,-26 L36,-28 M26,-18 L36,-16 M25,-10 L36,-6 M26,-2 L40,0 M26,8 L41,10').attr('stroke', '#3a2408').attr('stroke-width', 1.8);
			tiger.append('path').attr('d', 'M42,-14 C48,-4 46,8 40,14').attr('fill', 'none').attr('stroke', '#3a2408').attr('stroke-width', 2);
			tiger.append('path').attr('d', 'M10,26 C22,26 32,22 44,24 L42,33 C30,31 20,35 8,37Z').attr('fill', '#ffe23a').attr('stroke', '#8a6d00').attr('stroke-width', 1);
		});
		jata.append('path').attr('d', 'M-18,-6 H18 V14 C18,24 8,28 0,30 C-8,28 -18,24 -18,14Z').attr('fill', '#eee').attr('stroke', '#333').attr('stroke-width', 1);
		jata.append('rect').attr('x', -18).attr('y', -14).attr('width', 36).attr('height', 9).attr('fill', '#d71920');
		jata.append('rect').attr('x', -10).attr('y', -5).attr('width', 5).attr('height', 18).attr('fill', '#d71920');
		jata.append('rect').attr('x', -5).attr('y', -5).attr('width', 5).attr('height', 18).attr('fill', '#111');
		jata.append('rect').attr('x', 0).attr('y', -5).attr('width', 5).attr('height', 18).attr('fill', '#eee');
		jata.append('rect').attr('x', 5).attr('y', -5).attr('width', 5).attr('height', 18).attr('fill', '#f6d000');
		jata.append('path').attr('d', 'M11,0 L18,2 L14,20Z').attr('fill', '#1e9a3a');
		jata.append('circle').attr('cx', -12).attr('cy', 18).attr('r', 3).attr('fill', '#111');
		jata.append('circle').attr('cx', 3).attr('cy', 22).attr('r', 3).attr('fill', '#c22');
		jata.append('path').attr('d', 'M-10,-28 A11,11 0 1 0 10,-28 A12,9 0 0 1 -10,-28Z').attr('fill', '#ffe23a').attr('stroke', '#8a6d00').attr('stroke-width', 0.8);
		jata.append('circle').attr('cx', 0).attr('cy', -27).attr('r', 5.5).attr('fill', '#ffd21a').attr('stroke', '#caa000').attr('stroke-width', 1.5).attr('stroke-dasharray', '1,1');

		// Garisan penunjuk
		let leaders = svg.append('g');
		leaders.selectAll('line').data(leaderLines).enter().append('line')
			.attr('x1', function(d) { return d.from[0]; }).attr('y1', function(d) { return d.from[1]; })
			.attr('x2', function(d) { return d.to[0]; }).attr('y2', function(d) { return d.to[1]; })
			.attr('stroke', '#000').attr('stroke-width', 5);
		leaders.selectAll('circle.a').data(leaderLines).enter().append('circle').attr('class', 'a')
			.attr('cx', function(d) { return d.from[0]; }).attr('cy', function(d) { return d.from[1]; })
			.attr('r', function(d) { return d.r0; }).attr('fill', '#000');
		leaders.selectAll('circle.b').data(leaderLines).enter().append('circle').attr('class', 'b')
			.attr('cx', function(d) { return d.to[0]; }).attr('cy', function(d) { return d.to[1]; })
			.attr('r', function(d) { return d.r1; }).attr('fill', '#000');

	</script>
</body>
</html>
